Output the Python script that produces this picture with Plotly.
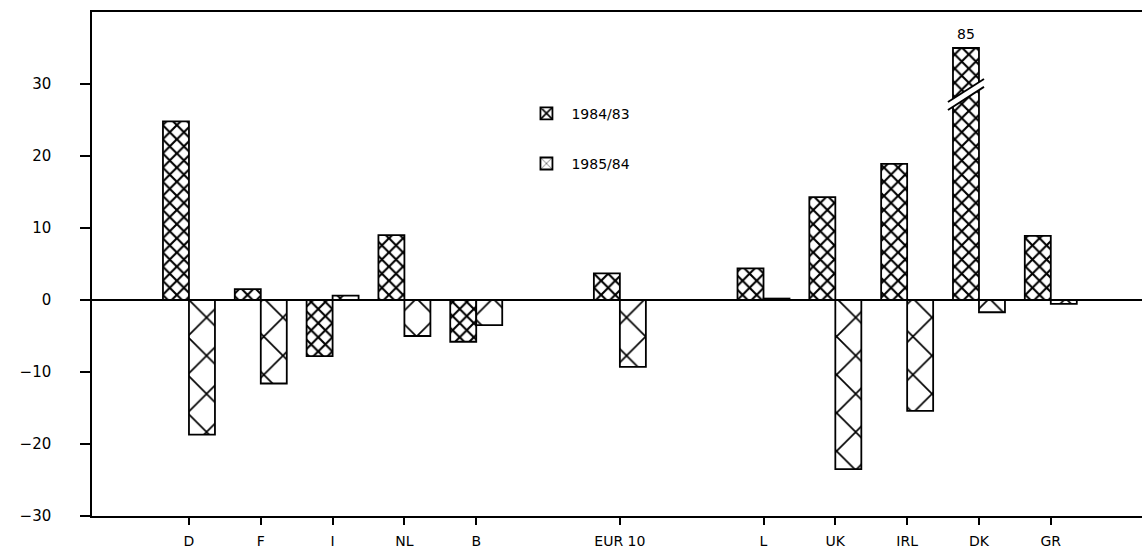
import plotly.graph_objects as go

# ---- data ----
categories = ["D", "F", "I", "NL", "B", "EUR 10", "L", "UK", "IRL", "DK", "GR"]
group_sizes = [5, 1, 5]          # D..B | EUR 10 | L..GR
change_1984_83 = [24.8, 1.5, -7.8, 9.0, -5.8, 3.7, 4.4, 14.3, 18.9, 85.0, 8.9]
change_1985_84 = [-18.7, -11.6, 0.6, -5.0, -3.5, -9.3, 0.2, -23.5, -15.4, -1.7, -0.55]
series_names = ["1984/83", "1985/84"]
y_ticks = [-30, -20, -10, 0, 10, 20, 30]
axis_cap = 35                    # bars above this value are drawn broken

# ---- layout helpers ----
x_pos = []
slot = 0
for n in group_sizes:
    for _ in range(n):
        x_pos.append(slot)
        slot += 1
    slot += 1

bargap = 0.276
bar_w = (1 - bargap) / 2
shown_84 = [min(v, axis_cap) for v in change_1984_83]

FONT = "DejaVu Sans"

fig = go.Figure()
fig.add_trace(go.Bar(
    x=x_pos, y=shown_84, name=series_names[0], legendgroup="a",
    marker=dict(color="white", line=dict(color="black", width=1.8),
                pattern=dict(shape="x", size=10, solidity=0.38, fgopacity=1,
                             fgcolor="black", bgcolor="white")),
))
fig.add_trace(go.Bar(
    x=x_pos, y=change_1985_84, name=series_names[1], legendgroup="b",
    marker=dict(color="white", line=dict(color="black", width=1.8),
                pattern=dict(shape="x", size=27, solidity=0.12, fgopacity=1,
                             fgcolor="black", bgcolor="white")),
))

# broken bar(s): label with true value and break mark
for xp, v in zip(x_pos, change_1984_83):
    if v > axis_cap:
        xc = xp - bar_w / 2
        fig.add_annotation(x=xc, y=axis_cap, text=f"{v:g}", showarrow=False,
                           yanchor="bottom", yshift=4,
                           font=dict(family=FONT, size=14, color="black"))
        mid = axis_cap - 6.5
        dx = bar_w / 2 + 0.07
        lo = (mid - 2.1, mid + 1.1)
        hi = (mid - 1.0, mid + 2.2)
        fig.add_shape(type="path",
                      path=f"M {xc-dx},{lo[0]} L {xc+dx},{lo[1]} L {xc+dx},{hi[1]} L {xc-dx},{hi[0]} Z",
                      fillcolor="white", line=dict(width=0), layer="above")
        for a, b in (lo, hi):
            fig.add_shape(type="line", x0=xc - dx, y0=a, x1=xc + dx, y1=b,
                          line=dict(color="black", width=1.8), layer="above")

fig.update_layout(
    width=1142, height=551,
    margin=dict(l=92, r=0, t=12, b=35),
    paper_bgcolor="white", plot_bgcolor="white",
    barmode="group", bargap=bargap, bargroupgap=0,
    font=dict(family=FONT, size=14, color="black"),
    showlegend=True,
    legend=dict(x=0.409, y=0.83, xanchor="left", yanchor="top",
                bgcolor="rgba(0,0,0,0)", tracegroupgap=29,
                itemwidth=40, font=dict(family=FONT, size=14)),
)
fig.update_xaxes(
    range=[-1.35, 13.27], tickmode="array", tickvals=x_pos, ticktext=categories,
    ticks="outside", ticklen=7, tickwidth=1.5, tickcolor="black",
    showline=True, linecolor="black", linewidth=1.5, mirror=True,
    showgrid=False, zeroline=False, tickfont=dict(size=14),
    automargin=False, ticklabelstandoff=4,
)
fig.update_yaxes(
    range=[-30, 40], tickmode="array", tickvals=y_ticks,
    ticks="outside", ticklen=10, tickwidth=1.5, tickcolor="black",
    showline=True, linecolor="black", linewidth=1.5, mirror=False,
    showgrid=False, zeroline=True, zerolinecolor="black", zerolinewidth=1.5,
    ticklabelstandoff=26, tickfont=dict(size=15), automargin=False,
)

fig.write_html(
    "out.html",
    config={"displayModeBar": False},
    post_script="document.body.style.margin='0';document.body.style.overflow='hidden';",
)
